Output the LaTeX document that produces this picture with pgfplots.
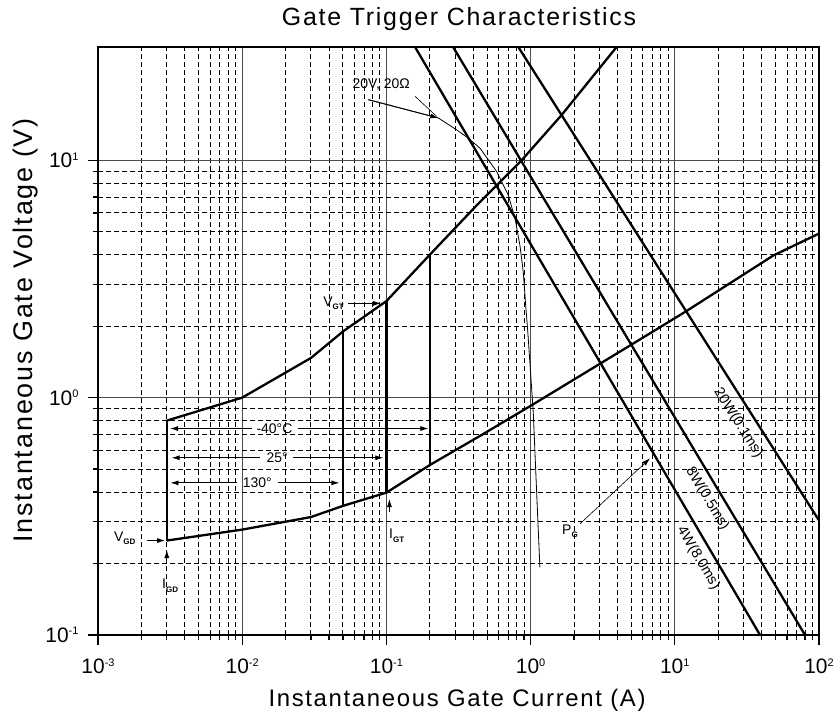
\documentclass[border=0pt]{standalone}
\usepackage{fontspec}
\setmainfont{Liberation Sans}
\newfontfamily\labfont[LetterSpace=7]{Liberation Sans}
\usepackage{pgfplots}
\pgfplotsset{compat=1.18}
\usetikzlibrary{arrows.meta}

\newcommand\tp[1]{10\raisebox{7.5bp}{\fontsize{11}{11}\selectfont #1}}
\newcommand\sbs[1]{\raisebox{-3.5bp}{\fontsize{8}{8}\selectfont\bfseries #1}}
\newcommand\ann{\fontsize{14}{14}\selectfont}

\begin{document}
\begin{tikzpicture}
\begin{axis}[
 at={(0,0)}, anchor=south west,
 scale only axis, width=721bp, height=588bp,
 xmode=log, ymode=log,
 xmin=1e-3, xmax=100, ymin=0.1, ymax=30,
 grid=both,
 major grid style={solid, line width=1.2bp, black!70},
 minor grid style={dash pattern=on 5bp off 3bp, line width=1bp, black},
 axis line style={line width=2.3bp},
 every tick/.style={black, line width=1.2bp},
 tick align=outside,
 major tick length=10bp, minor tick length=5bp,
 xtick pos=left, ytick pos=left,
 xtick={0.001,0.01,0.1,1,10,100},
 xticklabels={\tp{-3},\tp{-2},\tp{-1},\tp{0},\tp{1},\tp{2}},
 ytick={0.1,1,10},
 yticklabels={\tp{-1},\tp{0},\tp{1}},
 tick label style={font=\fontsize{21}{21}\selectfont},
 xticklabel style={yshift=-10bp},
 yticklabel style={xshift=-6bp},
 xlabel={Instantaneous Gate Current (A)},
 ylabel={Instantaneous Gate Voltage (V)},
 xlabel style={font=\labfont\fontsize{24}{24}\selectfont, at={(axis description cs:0.498,-0.1224)}, anchor=base},
 ylabel style={font=\labfont\fontsize{27}{28}\selectfont, at={(axis description cs:-0.0902,0.518)}, anchor=base},
 title={Gate Trigger Characteristics},
 title style={font=\labfont\fontsize{25}{25}\selectfont, at={(axis description cs:0.5007,1.027)}, anchor=base},
 clip=false,
]
% upper boundary curve
\addplot[black, line width=2.3bp] coordinates {
 (0.003,0.8) (0.01,1.0) (0.03,1.47) (0.05,1.9) (0.1,2.55) (0.2,4.0)
 (0.446,6.68) (0.867,10) (1.64,15.5) (3.95,30)};
% lower boundary curve
\addplot[black, line width=2.3bp] coordinates {
 (0.003,0.25) (0.01,0.278) (0.03,0.314) (0.05,0.35) (0.1,0.398) (0.2,0.52)
 (0.446,0.69) (1.02,0.93) (7.48,1.94) (12.1,2.32) (48.2,3.97) (100,4.91)};
% vertical limits
\addplot[black, line width=2.3bp] coordinates {(0.003,0.25) (0.003,0.8)};
\addplot[black, line width=2.3bp] coordinates {(0.05,0.35) (0.05,1.9)};
\addplot[black, line width=2.3bp] coordinates {(0.1,0.398) (0.1,2.55)};
\addplot[black, line width=2.3bp] coordinates {(0.2,0.52) (0.2,4.0)};
% power lines
\addplot[black, line width=2.3bp] coordinates {(0.158,30) (39,0.1)};
\addplot[black, line width=2.3bp] coordinates {(0.29,30) (80,0.1)};
\addplot[black, line width=2.3bp] coordinates {(0.822,30) (100,0.304)};
% 20V 20 ohm load line
\addplot[black, line width=0.8bp] coordinates {
 (0.0749,18.0) (0.229,15.07) (0.307,13.43) (0.370,12.39) (0.446,11.24)
 (0.582,8.96) (0.700,7.13) (0.780,5.68) (0.844,4.37) (0.890,3.37)
 (0.925,2.44) (0.959,1.85) (1.044,0.861) (1.10,0.407) (1.16,0.193)};

% annotations
\draw[line width=0.8bp, -{Latex[length=8bp,width=5bp]}] (axis cs:0.0749,18.0) -- (axis cs:0.229,15.07);
\draw[line width=0.6bp] (axis cs:0.158,18.6) -- (axis cs:0.2234,15.3);
\node[font=\ann] at (axis cs:0.092,20.8) {20V, 20Ω};

\node[font=\ann, anchor=base east, inner sep=1bp] at (axis cs:0.0516,2.43) {V\sbs{GT}};
\draw[line width=0.8bp, -{Latex[length=8bp,width=5bp]}] (axis cs:0.0542,2.495) -- (axis cs:0.0917,2.495);

\node[font=\ann, anchor=base east, inner sep=1bp] at (axis cs:0.00185,0.2477) {V\sbs{GD}};
\draw[line width=0.8bp, -{Latex[length=8bp,width=5bp]}] (axis cs:0.00218,0.25) -- (axis cs:0.00292,0.25);

\node[font=\ann, anchor=base west, inner sep=1bp] at (axis cs:0.002735,0.1567) {I\sbs{GD}};
\draw[line width=0.8bp, -{Latex[length=8bp,width=5bp]}] (axis cs:0.003,0.205) -- (axis cs:0.003,0.228);

\node[font=\ann, anchor=base west, inner sep=1bp] at (axis cs:0.1026,0.255) {I\sbs{GT}};
\draw[line width=0.8bp, -{Latex[length=8bp,width=5bp]}] (axis cs:0.105,0.33) -- (axis cs:0.105,0.374);

\node[font=\ann, anchor=base west, inner sep=1bp] at (axis cs:1.625,0.2655) {P\sbs{G}};
\draw[line width=0.6bp, -{Latex[length=8bp,width=5bp]}] (axis cs:2.2,0.294) -- (axis cs:6.73,0.555);

% temperature ranges
\draw[line width=0.8bp, -{Latex[length=8bp,width=5bp]}] (axis cs:0.01164,0.741) -- (axis cs:0.00316,0.741);
\draw[line width=0.8bp, -{Latex[length=8bp,width=5bp]}] (axis cs:0.02449,0.741) -- (axis cs:0.1953,0.741);
\node[font=\ann] at (axis cs:0.01675,0.741) {-40°C};

\draw[line width=0.8bp, -{Latex[length=8bp,width=5bp]}] (axis cs:0.01328,0.558) -- (axis cs:0.00324,0.558);
\draw[line width=0.8bp, -{Latex[length=8bp,width=5bp]}] (axis cs:0.02262,0.558) -- (axis cs:0.0952,0.558);
\node[font=\ann] at (axis cs:0.0175,0.558) {25°};

\draw[line width=0.8bp, -{Latex[length=8bp,width=5bp]}] (axis cs:0.00916,0.4375) -- (axis cs:0.00318,0.4375);
\draw[line width=0.8bp, -{Latex[length=8bp,width=5bp]}] (axis cs:0.0178,0.4375) -- (axis cs:0.0472,0.4375);
\node[font=\ann] at (axis cs:0.01273,0.4375) {130°};

% power line labels
\node[font=\fontsize{14.5}{15}\selectfont, rotate=-57.4] at (axis cs:27.5,0.782) {20W(0.1ms)};
\node[font=\fontsize{14.5}{15}\selectfont, rotate=-58.9] at (axis cs:16.8,0.376) {8W(0.5ms)};
\node[font=\fontsize{14.5}{15}\selectfont, rotate=-59.4] at (axis cs:14.56,0.211) {4W(8.0ms)};

\coordinate (O) at (rel axis cs:0,0);
\end{axis}
\path (O) ++(-98bp,-89bp) rectangle ++(837bp,724bp);
\end{tikzpicture}
\end{document}
